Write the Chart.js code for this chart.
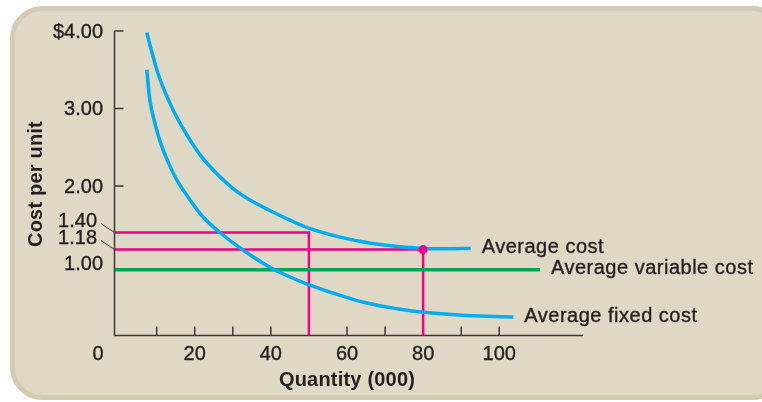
<!DOCTYPE html>
<html>
<head>
<meta charset="utf-8">
<script src="https://cdn.jsdelivr.net/npm/chart.js@4.4.0/dist/chart.umd.min.js"></script>
<style>
  html, body { margin: 0; padding: 0; background: #fff; }
  #wrap { width: 762px; height: 402px; }
</style>
</head>
<body>
<div id="wrap"><canvas id="costChart"></canvas></div>
<script>
// Average cost curve (quantity in 000, cost per unit)
const acQuantity = [7.4, 9, 11, 14.4, 18.8, 23.1, 30, 36.3, 45, 50.3, 58.2, 65.2, 73.9, 80, 86, 92.5];
const acCost = [3.98, 3.68, 3.36, 2.97, 2.59, 2.30, 1.97, 1.77, 1.56, 1.45, 1.34, 1.27, 1.215, 1.195, 1.19, 1.195];

// Average fixed cost curve
const afcQuantity = [7.4, 8.3, 9.5, 11, 13, 15.5, 18.5, 22, 26.6, 32.8, 40.6, 50.3, 58.2, 65.2, 73.9, 80, 91.4, 103.7];
const afcCost = [3.50, 3.08, 2.82, 2.56, 2.31, 2.06, 1.84, 1.61, 1.40, 1.17, 0.93, 0.72, 0.59, 0.49, 0.41, 0.37, 0.33, 0.31];

// Average variable cost (flat)
const avcQuantity = [-1, 110.7];
const avcCost = [0.92, 0.92];

// Marked readings on the average cost curve
const markerQuantity = [50, 80];
const markerCost = [1.40, 1.18];
const markerLabels = ["1.40", "1.18"];

// Axes
const xMin = -1.08, xMax = 122;
const yMin = 0.07, yMax = 4.0;
const yTickValues = [1, 2, 3, 4];
const yTickLabels = ["1.00", "2.00", "3.00", "$4.00"];
const yTickMarks = [2, 3, 4];
const xTickMarks = [10, 20, 30, 40, 50, 60, 70, 80, 90, 100];
const xTickLabels = [20, 40, 60, 80, 100];
const curveLabels = ["Average cost", "Average variable cost", "Average fixed cost"];

const FONT = "'Liberation Sans', Arial, sans-serif";
const TEXT = "#231f20";
const BLUE = "#00aeef", PINK = "#ec008c", GREEN = "#00a651";

function toPoints(xs, ys) {
  return xs.map((x, i) => ({ x: x, y: ys[i] }));
}

// pink guide lines: from the y axis across to the curve, then down to the x axis
const guide1 = [{ x: xMin, y: markerCost[0] }, { x: markerQuantity[0], y: markerCost[0] }, { x: markerQuantity[0], y: yMin }];
const guide2 = [{ x: xMin, y: markerCost[1] }, { x: markerQuantity[1], y: markerCost[1] }, { x: markerQuantity[1], y: yMin }];

// text with a hairline stroke so it reads a little heavier, like the print
function label(ctx, s, x, y) {
  ctx.fillText(s, x, y);
  ctx.strokeText(s, x, y);
}

const decorations = {
  id: "decorations",
  beforeDraw(chart) {
    const ctx = chart.ctx;
    ctx.save();
    ctx.fillStyle = "#dfd8c5";
    ctx.strokeStyle = "#d4ccb2";
    ctx.lineWidth = 5;
    ctx.beginPath();
    ctx.roundRect(12.5, 8.5, 770, 389, 30);
    ctx.fill();
    ctx.stroke();
    ctx.restore();
  },
  beforeDatasetsDraw(chart) {
    const ctx = chart.ctx;
    const xs = chart.scales.x, ys = chart.scales.y;
    const area = chart.chartArea;
    ctx.save();
    ctx.strokeStyle = "#3b3838";
    ctx.lineWidth = 1.5;
    ctx.beginPath();
    ctx.moveTo(area.left, ys.getPixelForValue(yMax));
    ctx.lineTo(area.left, area.bottom);
    ctx.lineTo(area.right, area.bottom);
    yTickMarks.forEach((v) => {
      const py = ys.getPixelForValue(v);
      ctx.moveTo(area.left, py);
      ctx.lineTo(area.left + 9, py);
    });
    xTickMarks.forEach((v) => {
      const px = xs.getPixelForValue(v);
      ctx.moveTo(px, area.bottom);
      ctx.lineTo(px, area.bottom - 9);
    });
    ctx.stroke();
    ctx.restore();
  },
  afterDatasetsDraw(chart) {
    const ctx = chart.ctx;
    const xs = chart.scales.x, ys = chart.scales.y;
    const area = chart.chartArea;
    ctx.save();
    ctx.fillStyle = TEXT;
    ctx.strokeStyle = TEXT;
    ctx.lineWidth = 0.35;
    ctx.textBaseline = "middle";

    // y tick labels
    ctx.font = "20px " + FONT;
    ctx.textAlign = "right";
    yTickValues.forEach((v, i) => {
      label(ctx, yTickLabels[i], 103, ys.getPixelForValue(v) + 1);
    });

    // marker labels with leader lines
    markerCost.forEach((v, i) => {
      const py = ys.getPixelForValue(v);
      const ly = py - 11.5;
      label(ctx, markerLabels[i], 97, ly);
      ctx.save();
      ctx.strokeStyle = "#3b3838";
      ctx.lineWidth = 1;
      ctx.beginPath();
      ctx.moveTo(101, ly + 2.5);
      ctx.lineTo(area.left, py);
      ctx.stroke();
      ctx.restore();
    });

    // x tick labels
    ctx.textAlign = "center";
    xTickLabels.forEach((v) => {
      label(ctx, String(v), xs.getPixelForValue(v), 354);
    });
    label(ctx, "0", 98, 354);

    // curve labels at the end of each line
    ctx.textAlign = "left";
    ctx.letterSpacing = "0.5px";
    const ends = [
      [acQuantity[acQuantity.length - 1], acCost[acCost.length - 1]],
      [avcQuantity[avcQuantity.length - 1], avcCost[avcCost.length - 1]],
      [afcQuantity[afcQuantity.length - 1], afcCost[afcCost.length - 1]],
    ];
    ends.forEach((e, i) => {
      label(ctx, curveLabels[i], xs.getPixelForValue(e[0]) + 11, ys.getPixelForValue(e[1]) - 1);
    });

    // axis titles
    ctx.letterSpacing = "0.2px";
    ctx.font = "bold 20px " + FONT;
    ctx.textAlign = "center";
    ctx.fillText("Quantity (000)", 347, 380);
    ctx.translate(36, 184);
    ctx.rotate(-Math.PI / 2);
    ctx.fillText("Cost per unit", 0, 0);
    ctx.restore();
  },
};

new Chart(document.getElementById("costChart"), {
  type: "line",
  data: {
    datasets: [
      {
        data: toPoints(acQuantity, acCost),
        borderColor: BLUE,
        borderWidth: 3.5,
        pointRadius: 0,
        tension: 0.4,
        order: 1,
      },
      {
        data: toPoints(afcQuantity, afcCost),
        borderColor: BLUE,
        borderWidth: 3.5,
        pointRadius: 0,
        tension: 0.4,
        order: 1,
      },
      {
        data: [{ x: markerQuantity[1], y: markerCost[1] }],
        showLine: false,
        pointRadius: 4.5,
        pointBorderWidth: 0,
        pointBackgroundColor: PINK,
        order: 0,
      },
      {
        data: toPoints(avcQuantity, avcCost),
        borderColor: GREEN,
        borderWidth: 3.5,
        pointRadius: 0,
        order: 2,
      },
      {
        data: guide1,
        borderColor: PINK,
        borderWidth: 2.5,
        pointRadius: 0,
        tension: 0,
        order: 3,
      },
      {
        data: guide2,
        borderColor: PINK,
        borderWidth: 2.5,
        pointRadius: 0,
        tension: 0,
        order: 3,
      },
    ],
  },
  options: {
    responsive: true,
    maintainAspectRatio: false,
    animation: false,
    layout: { padding: { left: 114.5, top: 31, right: 179, bottom: 66.4 } },
    plugins: { legend: { display: false }, tooltip: { enabled: false } },
    scales: {
      x: { type: "linear", min: xMin, max: xMax, display: false },
      y: { type: "linear", min: yMin, max: yMax, display: false },
    },
  },
  plugins: [decorations],
});
</script>
</body>
</html>
